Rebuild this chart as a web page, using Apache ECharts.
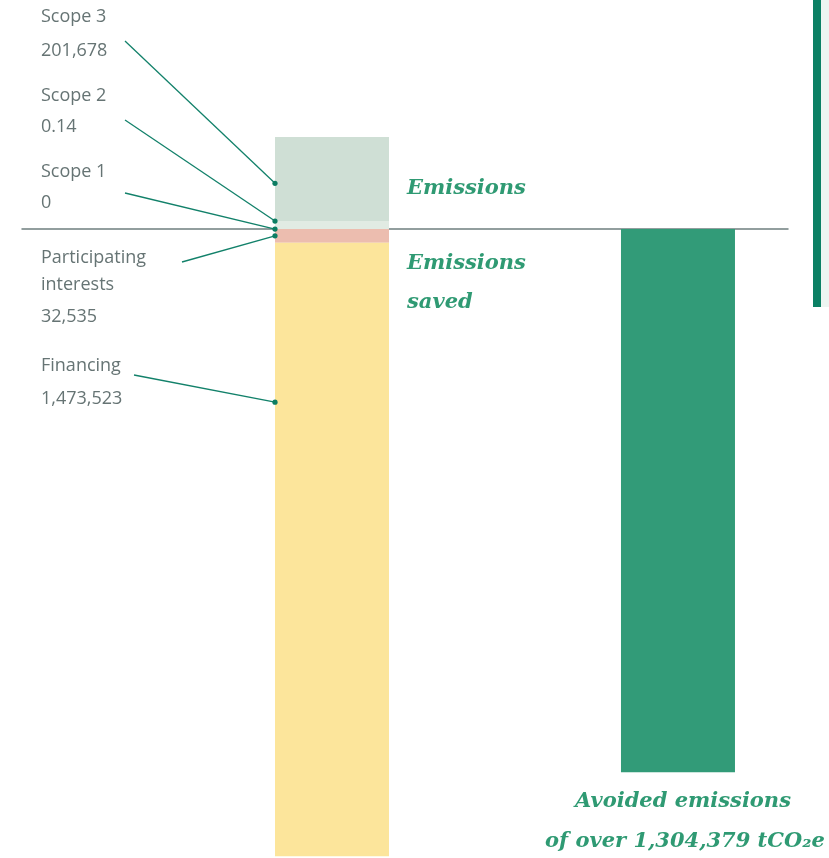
<!DOCTYPE html>
<html>
<head>
<meta charset="utf-8">
<script src="https://cdn.jsdelivr.net/npm/echarts@6/dist/echarts.min.js"></script>
<style>
html,body{margin:0;padding:0;background:#fff;}
#main{width:829px;height:858px;}
</style>
</head>
<body>
<div id="main"></div>
<script>
// ---- data ----
const categories = ['Emissions', 'Avoided emissions'];
const emissionsLabels = ['Scope 1', 'Scope 2', 'Scope 3'];
const emissionsValueText = ['0', '0.14', '201,678'];
const emissionsValues = [0, 0.14, 201678];
const savedLabels = ['Participating\ninterests', 'Financing'];
const savedValueText = ['32,535', '1,473,523'];
const savedValues = [32535, 1473523];
const avoidedValue = 1304379;

// ---- styles ----
const emissionsColors = ['#dfeae2', '#e1ebe3', '#cfdfd5'];
const savedColors = ['#ecbdaf', '#fce59b'];
const avoidedColor = '#329b78';
const minPx = [0, 8, 0];
const BAR_W = 114;
const leaderColor = '#12816a';
const labelColor = '#667474';
const greenText = '#2f9a73';

// build segments (stacked)
const segs = [];
let cum = 0;
emissionsValues.forEach((v, i) => {
  segs.push({ x: 0, from: cum, to: cum + v, color: emissionsColors[i], minPx: minPx[i], dir: 1 });
  cum += v;
});
cum = 0;
savedValues.forEach((v, i) => {
  segs.push({ x: 0, from: cum, to: cum - v, color: savedColors[i], minPx: 0, dir: -1 });
  cum -= v;
});
segs.push({ x: 1, from: 0, to: -avoidedValue, color: avoidedColor, minPx: 0, dir: -1 });

function geom(i, coord) {
  const s = segs[i];
  let shift = 0;
  for (let j = 0; j < i; j++) {
    const t = segs[j];
    if (t.x === s.x && t.dir === s.dir) {
      const a = coord([t.x, t.from]), b = coord([t.x, t.to]);
      const nat = Math.abs(a[1] - b[1]);
      shift += Math.max(0, t.minPx - nat);
    }
  }
  const p0 = coord([s.x, s.from]);
  const p1 = coord([s.x, s.to]);
  const nat = Math.abs(p0[1] - p1[1]);
  const h = Math.max(nat, s.minPx);
  let yStart, yEnd;
  if (s.dir > 0) { yStart = p0[1] - shift; yEnd = yStart - h; }
  else { yStart = p0[1] + shift; yEnd = yStart + h; }
  return { cx: p0[0], left: p0[0] - BAR_W / 2, yStart: yStart, yEnd: yEnd, h: h };
}

const chart = echarts.init(document.getElementById('main'));
chart.setOption({
  animation: false,
  grid: { left: 22, right: 41, top: 0, bottom: 0 },
  xAxis: {
    type: 'value', min: -0.896, max: 1.318,
    axisLine: { show: true, onZero: true, lineStyle: { color: '#6f7f7f', width: 1.5 } },
    axisTick: { show: false }, axisLabel: { show: false }, splitLine: { show: false }
  },
  yAxis: {
    type: 'value', min: -1510000, max: 550000, show: false, splitLine: { show: false }
  },
  series: [{
    type: 'custom',
    name: categories.join(' / '),
    z: 1,
    data: segs.map((s, i) => [s.x, s.from, s.to, i]),
    renderItem: function (params, api) {
      const i = params.dataIndex;
      const g = geom(i, api.coord);
      const s = segs[i];
      if (g.h <= 0) return null;
      return {
        type: 'rect',
        shape: { x: g.left, y: Math.min(g.yStart, g.yEnd), width: BAR_W, height: g.h },
        style: { fill: s.color }
      };
    }
  }]
});

// leaders and labels
const coordFn = p => chart.convertToPixel({ gridIndex: 0 }, p);
const graphics = [];
const labelDefs = [
  { seg: 2, frac: 0.45, from: [125, 41], name: emissionsLabels[2], val: emissionsValueText[2], ny: 17, vy: 51 },
  { seg: 1, frac: 1.0, from: [125, 120], name: emissionsLabels[1], val: emissionsValueText[1], ny: 96, vy: 127 },
  { seg: 0, frac: 0.0, from: [125, 193], name: emissionsLabels[0], val: emissionsValueText[0], ny: 172, vy: 203 },
  { seg: 3, frac: 0.5, from: [182, 262], name: savedLabels[0], val: savedValueText[0], ny: 258, vy: 317 },
  { seg: 4, frac: 0.26, from: [134, 375], name: savedLabels[1], val: savedValueText[1], ny: 366, vy: 399 }
];
const sansFont = { fontFamily: 'Open Sans', fontSize: 18, fontWeight: 'normal' };
labelDefs.forEach(d => {
  const g = geom(d.seg, coordFn);
  const y = g.yStart + (g.yEnd - g.yStart) * d.frac;
  const x = g.left;
  graphics.push({
    type: 'line', z: 10,
    shape: { x1: d.from[0], y1: d.from[1], x2: x, y2: y },
    style: { stroke: leaderColor, lineWidth: 1.3 }
  });
  graphics.push({
    type: 'circle', z: 11,
    shape: { cx: x, cy: y, r: 2.6 },
    style: { fill: '#0c7d62' }
  });
  const lines = d.name.split('\n');
  lines.forEach((ln, k) => {
    graphics.push({
      type: 'text', z: 10, x: 41, y: d.ny + k * 27,
      style: Object.assign({ text: ln, fill: labelColor, textAlign: 'left', textVerticalAlign: 'middle', align: 'left', verticalAlign: 'middle' }, sansFont)
    });
  });
  graphics.push({
    type: 'text', z: 10, x: 41, y: d.vy,
    style: Object.assign({ text: d.val, fill: labelColor, textAlign: 'left', textVerticalAlign: 'middle', align: 'left', verticalAlign: 'middle' }, sansFont)
  });
});

const serifFont = { fontFamily: 'DejaVu Serif', fontSize: 21, fontWeight: 'bold', fontStyle: 'italic' };
function gtext(t, x, y, align) {
  graphics.push({
    type: 'text', z: 10, x: x, y: y,
    style: Object.assign({ text: t, fill: greenText, textAlign: align, textVerticalAlign: 'middle', align: align, verticalAlign: 'middle' }, serifFont)
  });
}
gtext('Emissions', 407, 189, 'left');
gtext('Emissions', 407, 264, 'left');
gtext('saved', 407, 303, 'left');
const avX = geom(5, coordFn).cx;
gtext('Avoided emissions', avX + 5, 802, 'center');
gtext('of over 1,304,379 tCO\u2082e', avX + 7, 842, 'center');

// right decoration bar
graphics.push({ type: 'rect', z: 5, shape: { x: 813, y: 0, width: 8, height: 307 }, style: { fill: '#0b8064' } });
graphics.push({ type: 'rect', z: 5, shape: { x: 821, y: 0, width: 8, height: 307 }, style: { fill: '#edf5f1' } });

chart.setOption({ graphic: graphics });
</script>
</body>
</html>
